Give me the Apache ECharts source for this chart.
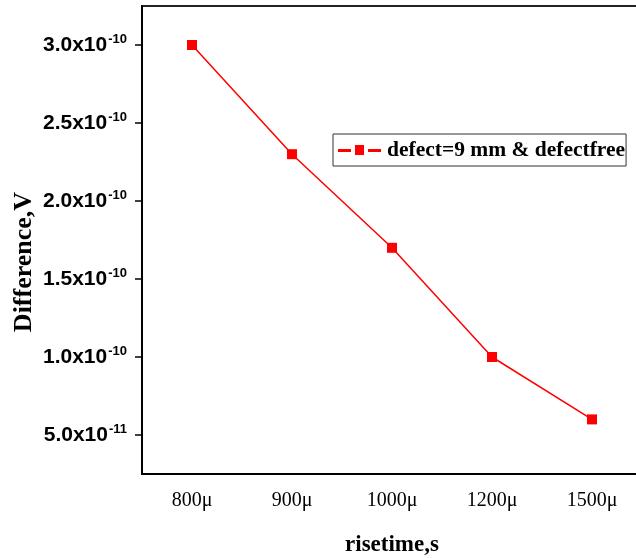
<!DOCTYPE html>
<html>
<head>
<meta charset="utf-8">
<script src="https://cdn.jsdelivr.net/npm/echarts@6/dist/echarts.min.js"></script>
<style>
html,body{margin:0;padding:0;background:#fff;}
#chart{width:636px;height:558px;}
</style>
</head>
<body>
<div id="chart"></div>
<script>
var categories = ['800\u03bc', '900\u03bc', '1000\u03bc', '1200\u03bc', '1500\u03bc'];
var seriesName = 'defect=9 mm & defectfree';
var differenceValues = [3.0e-10, 2.3e-10, 1.7e-10, 1.0e-10, 0.6e-10];
var yTickValues = [0.5e-10, 1.0e-10, 1.5e-10, 2.0e-10, 2.5e-10, 3.0e-10];
var xTitle = 'risetime,s';
var yTitle = 'Difference,V';

function sciLabel(v) {
  var e = Math.floor(Math.log10(v) + 1e-9);
  var m = v / Math.pow(10, e);
  return '{b|' + m.toFixed(1) + 'x10}{s|' + e + '}';
}

var chart = echarts.init(document.getElementById('chart'), null, {renderer: 'canvas'});
chart.setOption({
  backgroundColor: '#fff',
  animation: false,
  grid: {left: 142, width: 500, top: 6, height: 468, outerBoundsMode: 'none', containLabel: false,
         show: true, borderColor: '#222', borderWidth: 2},
  legend: {
    left: 333, top: 134,
    padding: [5, 1, 5, 5],
    backgroundColor: '#fff',
    borderColor: '#333', borderWidth: 1,
    icon: 'path://M0,4h13v3h-13z M17,0h9v10h-9z M30,4h13v3h-13z',
    itemWidth: 43, itemHeight: 10, itemGap: 6,
    textStyle: {fontFamily: 'Liberation Serif', fontWeight: 'bold', fontSize: 21.5, color: '#000', padding: [0, 0, 0, 1]},
    data: [seriesName]
  },
  xAxis: {
    type: 'category',
    data: categories,
    boundaryGap: true,
    axisLine: {lineStyle: {color: '#000', width: 2}},
    axisTick: {alignWithLabel: true, length: 7, lineStyle: {color: '#000', width: 1.5}},
    axisLabel: {margin: 17, color: '#000', fontFamily: 'Liberation Serif', fontSize: 20}
  },
  yAxis: {
    type: 'value',
    min: 0.25e-10, max: 3.25e-10,
    splitLine: {show: false},
    axisLine: {show: true, lineStyle: {color: '#000', width: 2}},
    axisTick: {show: true, length: 7, customValues: yTickValues, lineStyle: {color: '#000', width: 1.5}},
    axisLabel: {
      margin: 15,
      customValues: yTickValues,
      formatter: sciLabel,
      rich: {
        b: {fontFamily: 'Liberation Sans', fontWeight: 'bold', fontSize: 21, color: '#000', lineHeight: 24},
        s: {fontFamily: 'Liberation Sans', fontWeight: 'bold', fontSize: 13, color: '#000', verticalAlign: 'top', lineHeight: 12, padding: [0, 0, 0, 1]}
      }
    }
  },
  graphic: [
    {type: 'text', x: 392, y: 545, style: {text: xTitle, align: 'center', verticalAlign: 'middle', font: 'bold 23px "Liberation Serif"', fill: '#000'}},
    {type: 'text', x: 24, y: 262, rotation: Math.PI / 2, style: {text: yTitle, align: 'center', verticalAlign: 'middle', font: 'bold 26px "Liberation Serif"', fill: '#000'}}
  ],
  series: [{
    name: seriesName,
    type: 'line',
    data: differenceValues,
    symbol: 'rect',
    symbolSize: 10,
    lineStyle: {color: '#ff0000', width: 1.5},
    itemStyle: {color: '#ff0000'}
  }]
});
</script>
</body>
</html>
